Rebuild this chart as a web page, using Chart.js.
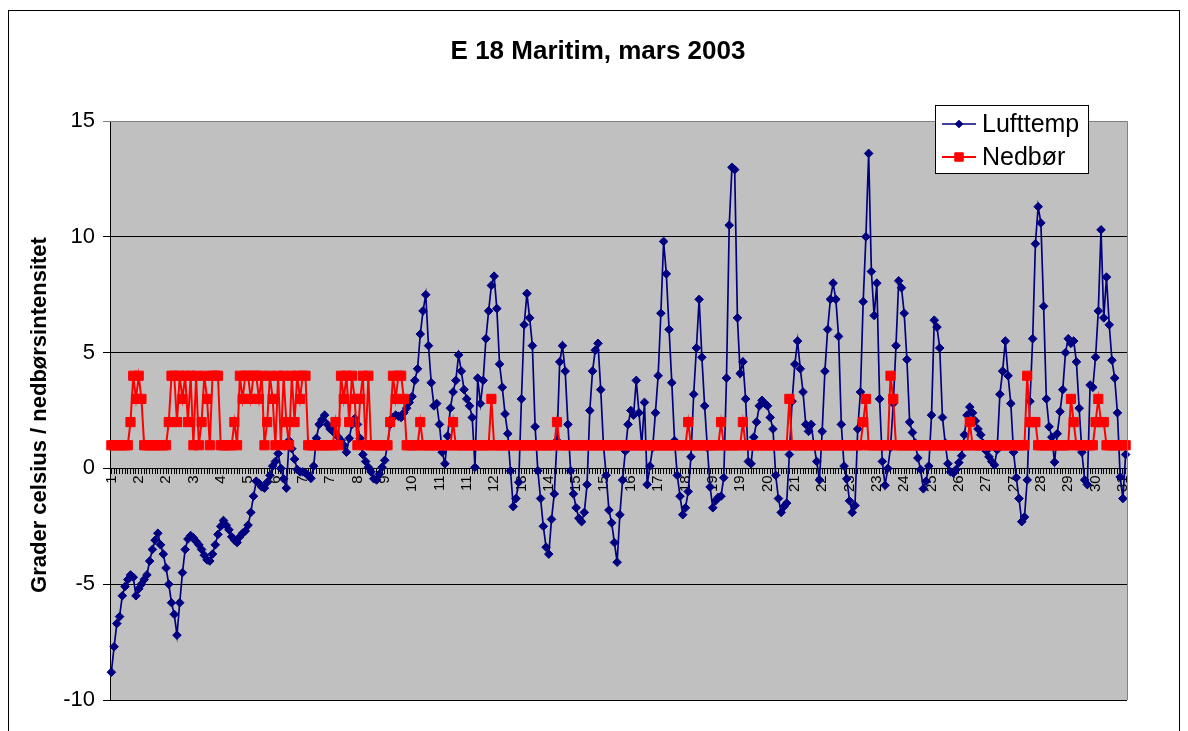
<!DOCTYPE html>
<html>
<head>
<meta charset="utf-8">
<title>E 18 Maritim, mars 2003</title>
<script src="https://cdn.jsdelivr.net/npm/chart.js@4.4.1/dist/chart.umd.min.js"></script>
<style>
  html, body { margin: 0; padding: 0; background: #fff; }
  #wrap { width: 1188px; height: 731px; }
</style>
</head>
<body>
<div id="wrap"><canvas id="chart" width="1188" height="731"></canvas></div>
<script>
const FONT = "'Liberation Sans', Arial, sans-serif";

// day of month shown under every 10th reading (2-hour readings)
const dayTicks = ['1', '2', '2', '3', '4', '5', '6', '7', '7', '8', '9', '10', '11', '11', '12', '13', '14', '15', '15',
  '16', '17', '18', '19', '19', '20', '21', '22', '23', '23', '24', '25', '26', '27', '27', '28', '29', '30', '31'];

// air temperature, deg C
const lufttemp = [
  -8.8, -7.7, -6.7, -6.4, -5.5, -5.1, -4.8, -4.6, -4.7, -5.5, -5.2, -5.0, -4.8, -4.6, -4.0, -3.5, -3.1, -2.8, -3.3, -3.7,
  -4.3, -5.0, -5.8, -6.3, -7.2, -5.8, -4.5, -3.5, -3.05, -2.9, -3.0, -3.15, -3.3, -3.5, -3.75, -3.95, -4.0, -3.7, -3.3, -2.85,
  -2.5, -2.25, -2.45, -2.65, -2.95, -3.1, -3.2, -2.95, -2.8, -2.7, -2.45, -1.9, -1.2, -0.55, -0.65, -0.8, -0.85, -0.6, -0.3, 0.1,
  0.3, 0.64, 0.0, -0.45, -0.85, 1.2, 0.85, 0.4, -0.05, -0.15, -0.15, -0.2, -0.3, -0.43, 0.1, 1.3, 1.9, 2.1, 2.3, 1.9,
  1.7, 1.6, 1.5, 1.35, 1.2, 1.0, 0.7, 1.3, 1.9, 2.15, 1.9, 1.3, 0.6, 0.3, 0.05, -0.15, -0.45, -0.5, -0.25, 0.05,
  0.35, 1.0, 1.9, 2.2, 2.3, 2.25, 2.2, 2.4, 2.6, 2.85, 3.1, 3.8, 4.3, 5.8, 6.8, 7.5, 5.3, 3.7, 2.7, 2.8,
  1.9, 0.7, 0.2, 1.4, 2.6, 3.3, 3.8, 4.9, 4.2, 3.4, 3.0, 2.7, 2.2, 0.05, 3.9, 2.8, 3.8, 5.6, 6.8, 7.9,
  8.3, 6.9, 4.5, 3.5, 2.35, 1.5, -0.1, -1.65, -1.3, -0.6, 3.0, 6.2, 7.55, 6.5, 5.3, 1.8, -0.1, -1.3, -2.5, -3.4,
  -3.7, -2.2, -1.1, 1.2, 4.6, 5.3, 4.2, 1.9, -0.1, -1.1, -1.7, -2.15, -2.3, -1.9, -0.7, 2.5, 4.2, 5.1, 5.4, 3.4,
  1.0, -0.3, -1.8, -2.35, -3.2, -4.05, -2.0, -0.5, 0.75, 1.9, 2.5, 2.3, 3.8, 2.4, 1.0, 2.85, -0.7, 0.1, 0.9, 2.4,
  4.0, 6.7, 9.8, 8.4, 6.0, 3.7, 1.2, -0.3, -1.2, -2.0, -1.7, -1.0, 0.5, 3.2, 5.2, 7.3, 4.8, 2.7, 0.9, -0.8,
  -1.7, -1.4, -1.25, -1.2, -0.4, 3.9, 10.5, 13.0, 12.9, 6.5, 4.1, 4.6, 3.0, 0.3, 0.2, 1.35, 2.0, 2.7, 2.94, 2.8,
  2.7, 2.2, 1.7, -0.3, -1.3, -1.9, -1.65, -1.5, 0.6, 2.9, 4.5, 5.5, 4.3, 3.3, 1.9, 1.6, 1.9, 1.0, 0.3, -0.5,
  1.6, 4.2, 6.0, 7.3, 8.0, 7.3, 5.7, 1.9, 0.1, -0.45, -1.4, -1.9, -1.6, 1.7, 3.3, 7.2, 10.0, 13.6, 8.5, 6.6,
  8.0, 3.0, 0.3, -0.73, 0.0, 0.9, 2.8, 5.3, 8.1, 7.8, 6.7, 4.7, 2.0, 1.55, 1.1, 0.45, -0.05, -0.88, -0.55, 0.1,
  2.3, 6.4, 6.1, 5.2, 2.2, 1.1, 0.2, -0.15, -0.2, -0.05, 0.25, 0.55, 1.45, 2.3, 2.65, 2.4, 2.05, 1.7, 1.45, 1.07,
  0.75, 0.5, 0.3, 0.15, 0.8, 3.2, 4.2, 5.5, 4.0, 2.8, 0.7, -0.4, -1.3, -2.3, -2.1, -0.5, 2.9, 5.6, 9.7, 11.3,
  10.6, 7.0, 3.0, 1.8, 1.35, 0.27, 1.5, 2.45, 3.4, 5.0, 5.6, 5.4, 5.5, 4.6, 2.6, 0.7, -0.5, -0.7, 3.6, 3.5,
  4.8, 6.8, 10.3, 6.5, 8.26, 6.2, 4.67, 3.9, 2.4, -0.37, -1.3, 0.6
];

// precipitation intensity class
const nedbor = [
  1, 1, 1, 1, 1, 1, 1, 2, 4, 3, 4, 3, 1, 1, 1, 1, 1, 1, 1, 1,
  1, 2, 4, 4, 2, 4, 3, 4, 2, 4, 1, 4, 1, 2, 4, 3, 1, 4, 4, 4,
  1, 1, 1, 1, 1, 2, 1, 4, 3, 4, 4, 3, 4, 4, 3, 4, 1, 2, 4, 3,
  1, 4, 1, 4, 2, 1, 4, 2, 4, 3, 4, 4, 1, 1, 1, 1, 1, 1, 1, 1,
  1, 1, 2, 1, 4, 3, 4, 2, 4, 3, 1, 3, 4, 1, 4, 1, 1, 1, 1, 1,
  1, 1, 2, 4, 3, 4, 4, 3, 1, 1, 1, 1, 1, 2, 1, 1, 1, 1, 1, 1,
  1, 1, 1, 1, 1, 2, 1, 1, 1, 1, 1, 1, 1, 1, 1, 1, 1, 1, 1, 3,
  1, 1, 1, 1, 1, 1, 1, 1, 1, 1, 1, 1, 1, 1, 1, 1, 1, 1, 1, 1,
  1, 1, 1, 2, 1, 1, 1, 1, 1, 1, 1, 1, 1, 1, 1, 1, 1, 1, 1, 1,
  1, 1, 1, 1, 1, 1, 1, 1, 1, 1, 1, 1, 1, 1, 1, 1, 1, 1, 1, 1,
  1, 1, 1, 1, 1, 1, 1, 1, 1, 1, 1, 2, 1, 1, 1, 1, 1, 1, 1, 1,
  1, 1, 1, 2, 1, 1, 1, 1, 1, 1, 1, 2, 1, 1, 1, 1, 1, 1, 1, 1,
  1, 1, 1, 1, 1, 1, 1, 1, 3, 1, 1, 1, 1, 1, 1, 1, 1, 1, 1, 1,
  1, 1, 1, 1, 1, 1, 1, 1, 1, 1, 1, 1, 1, 1, 1, 2, 3, 1, 1, 1,
  1, 1, 1, 1, 1, 4, 3, 1, 1, 1, 1, 1, 1, 1, 1, 1, 1, 1, 1, 1,
  1, 1, 1, 1, 1, 1, 1, 1, 1, 1, 1, 1, 1, 1, 2, 1, 1, 1, 1, 1,
  1, 1, 1, 1, 1, 1, 1, 1, 1, 1, 1, 1, 1, 1, 1, 4, 2, 2, 2, 1,
  1, 1, 1, 1, 1, 1, 1, 1, 1, 1, 1, 3, 2, 1, 1, 1, 1, 1, 1, 1,
  2, 3, 2, 2, 1, 1, 1, 1, 1, 1, 1, 1
];

const labels = lufttemp.map((_, i) => (i % 10 === 0 ? dayTicks[i / 10] : ''));

// background, outer frame, titles and legend box
const frame = {
  id: 'frame',
  beforeDraw(chart) {
    const { ctx, chartArea: a } = chart;
    ctx.save();
    ctx.fillStyle = '#fff';
    ctx.fillRect(0, 0, chart.width, chart.height);
    ctx.fillStyle = '#c0c0c0';
    ctx.fillRect(a.left, a.top, a.right - a.left, a.bottom - a.top);
    ctx.strokeStyle = '#000';
    ctx.lineWidth = 1;
    ctx.strokeRect(8.5, 10.5, chart.width - 17, chart.height + 20);
    ctx.restore();
  },
  afterDraw(chart) {
    const { ctx, chartArea: a } = chart;
    ctx.save();

    ctx.strokeStyle = '#808080';
    ctx.lineWidth = 1;
    ctx.beginPath();
    ctx.moveTo(a.left, a.top + 0.5);
    ctx.lineTo(a.right + 0.5, a.top + 0.5);
    ctx.lineTo(a.right + 0.5, a.bottom);
    ctx.stroke();

    ctx.fillStyle = '#000';
    ctx.textAlign = 'center';
    ctx.textBaseline = 'middle';
    ctx.font = 'bold 26px ' + FONT;
    ctx.fillText('E 18 Maritim, mars 2003', 598, 52);

    ctx.save();
    ctx.translate(40, 415);
    ctx.rotate(-Math.PI / 2);
    ctx.font = 'bold 22px ' + FONT;
    ctx.fillText('Grader celsius / nedbørsintensitet', 0, 0);
    ctx.restore();

    // legend
    ctx.fillStyle = '#fff';
    ctx.fillRect(935, 105, 154, 69);
    ctx.strokeStyle = '#000';
    ctx.lineWidth = 1;
    ctx.strokeRect(935.5, 105.5, 153, 68);
    chart.data.datasets.forEach((ds, k) => {
      const y = 124 + k * 33;
      ctx.strokeStyle = ds.borderColor;
      ctx.lineWidth = ds.borderWidth;
      ctx.beginPath();
      ctx.moveTo(942, y);
      ctx.lineTo(976, y);
      ctx.stroke();
      ctx.fillStyle = ds.pointBackgroundColor;
      ctx.strokeStyle = ds.borderColor;
      ctx.lineWidth = 1;
      Chart.helpers.drawPoint(ctx, { pointStyle: ds.pointStyle, radius: ds.pointRadius - 0.5, borderWidth: 1, rotation: 0 }, 959, y);
      ctx.fillStyle = '#000';
      ctx.textAlign = 'left';
      ctx.font = '25px ' + FONT;
      ctx.fillText(ds.label, 982, y + 1);
    });
    ctx.restore();
  }
};

new Chart(document.getElementById('chart'), {
  type: 'line',
  data: {
    labels,
    datasets: [
      {
        label: 'Lufttemp',
        data: lufttemp,
        borderColor: '#000080',
        backgroundColor: '#000080',
        pointBackgroundColor: '#000080',
        borderWidth: 1.7,
        pointStyle: 'rectRot',
        pointRadius: 4.3,
        pointBorderWidth: 1,
        tension: 0,
        order: 1,
      },
      {
        label: 'Nedbør',
        data: nedbor,
        borderColor: '#ff0000',
        backgroundColor: '#ff0000',
        pointBackgroundColor: '#ff0000',
        borderWidth: 2,
        pointStyle: 'rect',
        pointRadius: 6.5,
        pointBorderWidth: 1,
        tension: 0,
        order: 0,
      },
    ],
  },
  options: {
    responsive: false,
    animation: false,
    layout: { padding: { left: 8, right: 61, top: 121, bottom: 31 } },
    plugins: { legend: { display: false }, title: { display: false }, tooltip: { enabled: false } },
    scales: {
      x: {
        type: 'category',
        position: { y: 0 },
        offset: true,
        grid: { drawOnChartArea: false, drawTicks: true, tickLength: 5, color: '#000' },
        border: { color: '#000', width: 1 },
        ticks: {
          autoSkip: false,
          minRotation: 90,
          maxRotation: 90,
          padding: 2,
          color: '#000',
          font: { family: FONT, size: 15 },
        },
      },
      y: {
        min: -10,
        max: 15,
        afterFit(scale) { scale.width = 102; },
        grid: {
          color: (c) => (c.tick && c.tick.value === 15 ? '#808080' : '#000'),
          tickLength: 7,
        },
        border: { color: '#000', width: 1 },
        ticks: {
          stepSize: 5,
          padding: 8,
          color: '#000',
          font: { family: FONT, size: 22 },
        },
      },
    },
  },
  plugins: [frame],
});
</script>
</body>
</html>
